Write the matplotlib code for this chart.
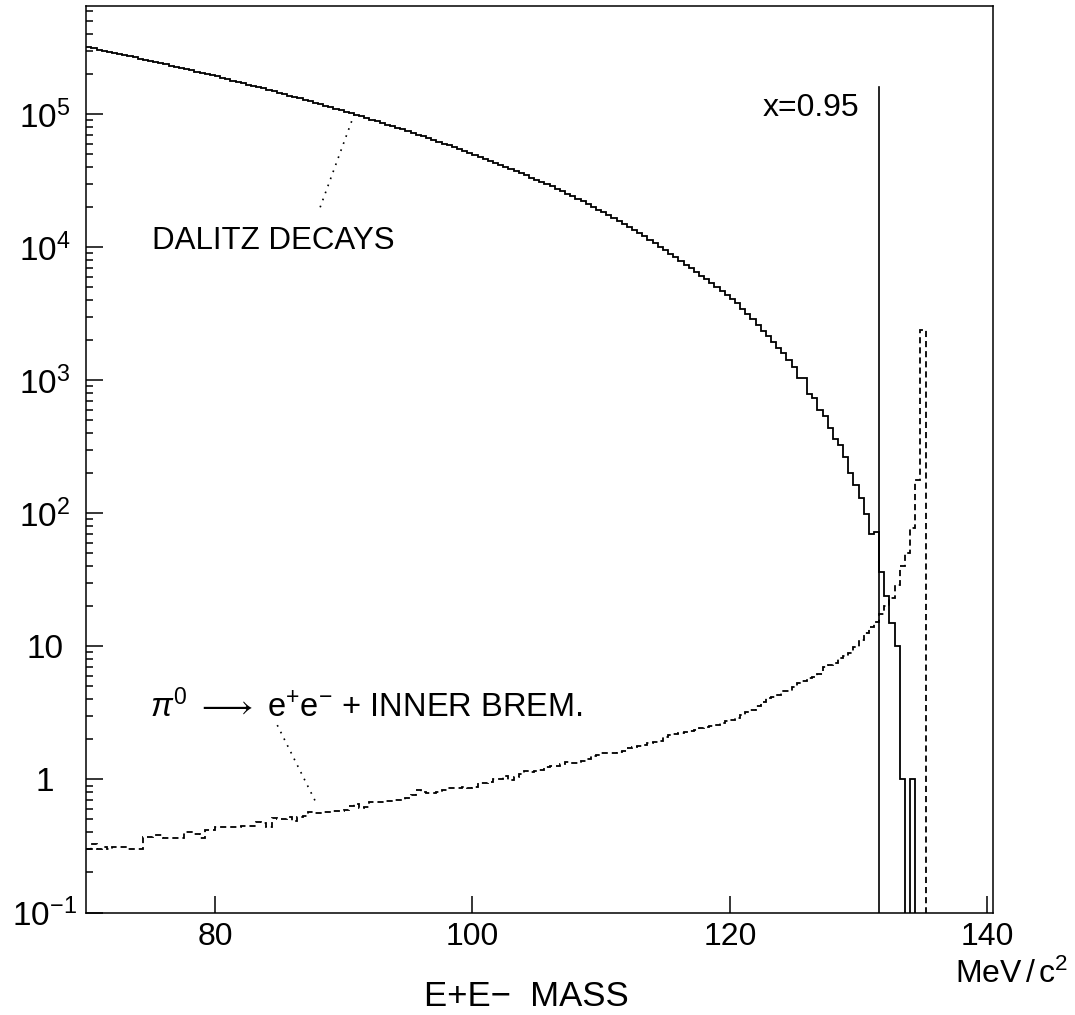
import numpy as np
import matplotlib
matplotlib.use('Agg')
import matplotlib.pyplot as plt
from matplotlib.ticker import FixedLocator, FixedFormatter, LogLocator, NullFormatter, NullLocator

# ---------------- data ----------------
bin_start = 70.0      # MeV/c^2
bin_width = 0.4       # MeV/c^2
n_bins = 176

# Dalitz decays (solid histogram), counts per bin
dalitz = [
    318000, 312000, 306000, 300000, 294000, 288000, 283000, 278000, 272000, 267000,
    262000, 257000, 251000, 246000, 241000, 237000, 232000, 227000, 222000, 218000,
    213000, 209000, 204000, 200000, 196000, 192000, 187000, 183000, 179000, 175000,
    171000, 167000, 163000, 160000, 156000, 152000, 149000, 145000, 142000, 138000,
    135000, 132000, 128000, 125000, 122000, 119000, 116000, 113000, 110000, 107000,
    104500, 101600, 98900, 96200, 93500, 91000, 88500, 86000, 83600, 81300,
    79100, 76700, 74500, 72300, 70200, 68100, 66000, 63900, 62000, 60100,
    58200, 56400, 54600, 52800, 51200, 49600, 47900, 46200, 44700, 43200,
    41700, 40200, 38700, 37300, 36000, 34700, 33400, 32100, 30900, 29700,
    28600, 27400, 26300, 25200, 24100, 23100, 22100, 21100, 20100, 19200,
    18400, 17500, 16600, 15800, 15000, 14300, 13500, 12700, 12100, 11400,
    10800, 10100, 9520, 8950, 8410, 7910, 7410, 6940, 6510, 6100,
    5720, 5360, 5010, 4690, 4380, 4070, 3780, 3460, 3170, 2880,
    2590, 2330, 2150, 1940, 1760, 1600, 1430, 1260, 1040, 1040,
    782, 741, 594, 542, 438, 364, 328, 265, 202, 164,
    131, 98, 70, 72, 36, 24, 15, 10, 1, 0,
    1, 0, 0, 0, 0, 0, 0, 0, 0, 0,
    0, 0, 0, 0, 0, 0,
]

# pi0 -> e+e- + inner bremsstrahlung (dashed histogram)
inner_brem = [
    0.30, 0.33, 0.30, 0.31, 0.30, 0.31, 0.31, 0.31, 0.30, 0.30,
    0.30, 0.37, 0.37, 0.38, 0.38, 0.36, 0.36, 0.36, 0.36, 0.40,
    0.40, 0.39, 0.36, 0.42, 0.42, 0.44, 0.44, 0.44, 0.44, 0.44,
    0.45, 0.45, 0.45, 0.48, 0.47, 0.44, 0.51, 0.50, 0.50, 0.52,
    0.49, 0.52, 0.53, 0.57, 0.56, 0.56, 0.57, 0.57, 0.58, 0.58,
    0.59, 0.63, 0.65, 0.61, 0.62, 0.68, 0.68, 0.68, 0.69, 0.69,
    0.70, 0.70, 0.72, 0.76, 0.84, 0.80, 0.79, 0.79, 0.80, 0.83,
    0.86, 0.86, 0.86, 0.88, 0.86, 0.88, 0.94, 0.94, 0.96, 1.00,
    1.00, 1.06, 0.99, 1.05, 1.10, 1.15, 1.14, 1.15, 1.18, 1.25,
    1.26, 1.27, 1.31, 1.36, 1.33, 1.34, 1.38, 1.42, 1.50, 1.52,
    1.59, 1.58, 1.57, 1.61, 1.64, 1.71, 1.74, 1.78, 1.83, 1.87,
    1.92, 1.96, 2.07, 2.16, 2.18, 2.22, 2.27, 2.32, 2.36, 2.42,
    2.47, 2.52, 2.58, 2.66, 2.74, 2.80, 2.90, 3.05, 3.20, 3.35,
    3.55, 3.80, 4.07, 4.20, 4.30, 4.64, 4.64, 4.97, 5.30, 5.48,
    5.74, 5.90, 6.18, 7.02, 7.20, 7.45, 8.20, 8.50, 8.85, 9.90,
    11.1, 12.5, 14.0, 15.3, 17.5, 20.2, 23.0, 28.8, 40.0, 50.0,
    77.0, 177.0, 2400.0, 0, 0, 0, 0, 0, 0, 0,
    0, 0, 0, 0, 0, 0,
]

x_ticks = [80, 100, 120, 140]
x_tick_labels = ['80', '100', '120', '140']
y_ticks = [1e-1, 1, 10, 1e2, 1e3, 1e4, 1e5]
y_tick_labels = [r'$10^{-1}$', '1', '10', r'$10^{2}$', r'$10^{3}$', r'$10^{4}$', r'$10^{5}$']

cut_x = 131.6          # x = 0.95 cut
cut_top = 1.6e5
x_range = (70.0, 140.42)
y_range = (0.1, 6.5e5)

# ---------------- style ----------------
plt.rcParams['font.family'] = ['Liberation Sans', 'DejaVu Sans']
plt.rcParams['mathtext.fontset'] = 'custom'
plt.rcParams['mathtext.rm'] = 'Liberation Sans'
plt.rcParams['mathtext.it'] = 'Liberation Sans:italic'
plt.rcParams['mathtext.bf'] = 'Liberation Sans:bold'
FS = 22

W, H = 1075, 1015
fig = plt.figure(figsize=(W / 100, H / 100), dpi=100)
L_, R_, T_, B_ = 86.25, 992.7, 6.0, 912.5
ax = fig.add_axes([L_ / W, (H - B_) / H, (R_ - L_) / W, (B_ - T_) / H])

edges = bin_start + bin_width * np.arange(n_bins + 1)
ax.stairs(dalitz, edges, color='black', lw=1.3, baseline=None)
ax.stairs(inner_brem, edges, color='black', lw=1.3, linestyle=(0, (3.4, 2.2)), baseline=None)

ax.set_yscale('log')
ax.set_xlim(*x_range)
ax.set_ylim(*y_range)

# cut line
ax.plot([cut_x, cut_x], [y_range[0], cut_top], color='black', lw=1.2)
ax.text(122.56, 9.7e4, 'x=0.95', fontsize=FS + 1, ha='left', va='baseline')

# labels + leader lines
ax.text(75.11, 9.75e3, 'DALITZ DECAYS', fontsize=FS + 0.5, ha='left', va='baseline')
ax.plot([90.82, 88.02], [1.0e5, 1.82e4], color='black', lw=1.2, linestyle=(0, (1, 3.5)))
ax.text(74.96, 2.94, r'$\pi^{0}$ $\longrightarrow$ e$^{+}$e$^{-}$ + INNER BREM.',
        fontsize=FS + 1.5, ha='left', va='baseline')
ax.plot([84.84, 87.95], [2.56, 0.641], color='black', lw=1.2, linestyle=(0, (1, 3.5)))

# ticks
ax.xaxis.set_major_locator(FixedLocator(x_ticks))
ax.xaxis.set_major_formatter(FixedFormatter(x_tick_labels))
ax.xaxis.set_minor_locator(NullLocator())
ax.yaxis.set_major_locator(FixedLocator(y_ticks))
ax.yaxis.set_major_formatter(FixedFormatter(y_tick_labels))
ax.yaxis.set_minor_locator(LogLocator(base=10, subs=np.arange(2, 10), numticks=20))
ax.yaxis.set_minor_formatter(NullFormatter())
ax.tick_params(which='both', direction='in', top=False, right=False, width=1.1)
ax.tick_params(which='major', length=12)
ax.tick_params(which='minor', length=5)
ax.tick_params(axis='x', pad=7, labelsize=FS + 1)
ax.tick_params(axis='y', pad=30, labelsize=FS + 2)
for lab in ax.get_yticklabels():
    lab.set_horizontalalignment('center')
for sp in ax.spines.values():
    sp.set_linewidth(1.1)

fig.text(1068 / W, (H - 983) / H, r'MeV$\,$/$\,$c$^{2}$', fontsize=FS + 1, ha='right', va='baseline')
fig.text(526 / W, (H - 1006) / H, 'E+E\u2212  MASS', fontsize=FS + 3, ha='center', va='baseline')

fig.savefig('out.png', dpi=100)
